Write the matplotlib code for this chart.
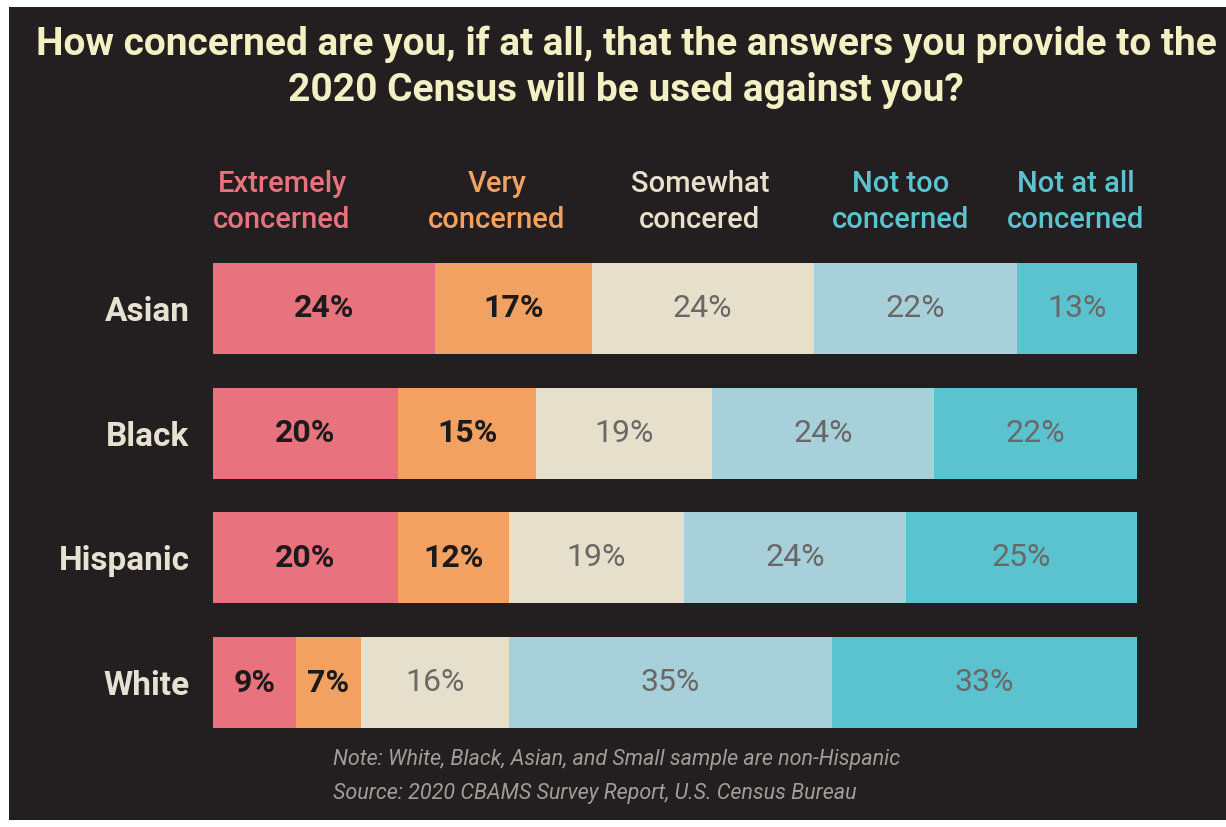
import matplotlib
matplotlib.use("Agg")
import matplotlib.pyplot as plt
import numpy as np

# ---------------- data ----------------
groups = ["Asian", "Black", "Hispanic", "White"]
categories = ["Extremely\nconcerned", "Very\nconcerned", "Somewhat\nconcered",
              "Not too\nconcerned", "Not at all\nconcerned"]
extremely = [24, 20, 20, 9]
very = [17, 15, 12, 7]
somewhat = [24, 19, 19, 16]
not_too = [22, 24, 24, 35]
not_at_all = [13, 22, 25, 33]

title = ("How concerned are you, if at all, that the answers you provide to the\n"
         "2020 Census will be used against you?")
note_lines = ["Note: White, Black, Asian, and Small sample are non-Hispanic",
              "Source: 2020 CBAMS Survey Report, U.S. Census Bureau"]

# ---------------- style ----------------
BG = "#231f20"
seg_colors = ["#e8737f", "#f2a160", "#e6dfcb", "#a8d0da", "#5bc2d0"]
head_colors = ["#e8737f", "#f2a160", "#e6dfcb", "#5bc2d0", "#5bc2d0"]
val_colors = ["#1c1a1a", "#1c1a1a", "#6a6866", "#6a6866", "#6a6866"]
val_weights = ["bold", "bold", "normal", "normal", "normal"]
FONT = ["Roboto", "DejaVu Sans"]

W, H = 1226, 827
fig = plt.figure(figsize=(W / 100, H / 100), dpi=100, facecolor="white")

# dark panel with thin white margin at left/top/bottom
fig.patches.append(plt.Rectangle((9 / W, 7 / H), 1 - 9 / W, 1 - 14 / H,
                                 transform=fig.transFigure, facecolor=BG,
                                 edgecolor="none", zorder=-10))

ax = fig.add_axes([213 / W, (H - 745) / H, 924 / W, 499 / H])
ax.set_facecolor("none")

series = [extremely, very, somewhat, not_too, not_at_all]
y = np.arange(len(groups))
left = np.zeros(len(groups))
for k, vals in enumerate(series):
    vals = np.array(vals, dtype=float)
    ax.barh(y, vals, left=left, height=0.73, color=seg_colors[k],
            edgecolor="none")
    for i, v in enumerate(vals):
        ax.text(left[i] + v / 2, y[i], f"{int(v)}%", ha="center", va="center",
                fontsize=23, color=val_colors[k], fontweight=val_weights[k],
                family=FONT)
    left += vals

ax.set_xlim(0, 100)
ax.set_ylim(3.5, -0.5)
ax.set_xticks([])
ax.set_yticks(y)
ax.set_yticklabels(groups, fontsize=24, color="#e6e2d2", fontweight="bold",
                   family=FONT)
ax.tick_params(axis="y", length=0, pad=17)
for s in ax.spines.values():
    s.set_visible(False)

# category header labels
head_x = [282, 497, 700, 901, 1076]
for k, cat in enumerate(categories):
    fig.text(head_x[k] / W, 1 - 202 / H, cat, ha="center", va="center",
             fontsize=21, color=head_colors[k], family=FONT,
             fontweight="medium", linespacing=1.32)

# title
fig.text(626 / W, 1 - 67 / H, title, ha="center", va="center", fontsize=28,
         color="#f3f0c4", fontweight="bold", family=FONT, linespacing=1.3)

# notes
for j, line in enumerate(note_lines):
    fig.text(333 / W, 1 - (760 + 33 * j) / H, line, ha="left", va="center",
             fontsize=15.5, color="#a09d9b", style="italic", family=FONT)

fig.savefig("out.png", dpi=100, facecolor="white")
